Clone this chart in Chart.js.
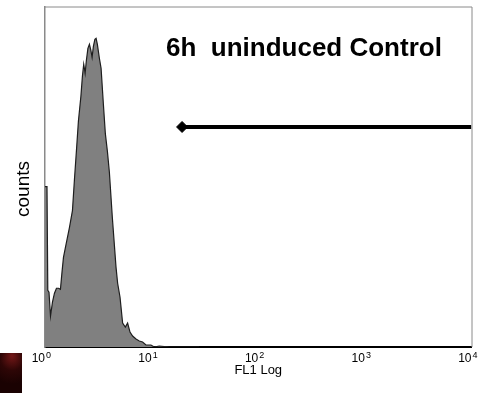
<!DOCTYPE html>
<html>
<head>
<meta charset="utf-8">
<script src="https://cdn.jsdelivr.net/npm/chart.js@4.4.1/dist/chart.umd.min.js"></script>
<style>
  html, body { margin: 0; padding: 0; background: #fff; }
  #wrap { width: 478px; height: 393px; }
</style>
</head>
<body>
<div id="wrap"><canvas id="facsHistogram"></canvas></div>
<script>
// FL1 channel (log scale) and event counts
const fl1 = [
    1.0, 1.044, 1.062, 1.09, 1.126, 1.175, 1.227, 1.281, 1.338, 1.396,
    1.443, 1.49, 1.555, 1.624, 1.695, 1.809, 1.888, 1.971, 2.058, 2.172,
    2.243, 2.307, 2.378, 2.445, 2.526, 2.609, 2.694, 2.765, 2.843, 2.937,
    3.014, 3.099, 3.236, 3.357, 3.527, 3.683, 3.844, 4.013, 4.281, 4.637,
    4.8, 5.054, 5.345, 5.665, 5.953, 6.269, 6.63, 7.134, 7.658, 8.226,
    8.85, 9.855, 10.58, 11.79, 14.62, 27.9,
];
const counts = [
    161, 161, 57, 55, 31, 45, 54, 59, 59, 58,
    75, 90, 100, 110, 120, 137, 168, 197, 227, 252,
    272, 284, 275, 288, 300, 304, 298, 291, 302, 309,
    310, 304, 290, 280, 244, 214, 197, 176, 130, 80,
    64, 50, 24, 20, 24, 15, 11, 8, 6, 5,
    2, 2, 0, 1, 0, 0,
];

// gate marker
const markerX = [19.3, 10000];
const markerY = [221, 221];

// decade ticks: base "10" plus the exponent drawn as a superscript
const tickValues = [1, 10, 100, 1000, 10000];
const tickExponents = ["0", "1", "2", "3", "4"];

const chartTitle = "6h  uninduced Control";
const yTitle = "counts";
const xTitle = "FL1 Log";

Chart.defaults.font.family = "Arial, 'Liberation Sans', sans-serif";
Chart.defaults.color = "#000";

const extras = {
    id: "extras",
    beforeDraw(chart) {
        const ctx = chart.ctx;
        // dark red scrap in the lower left corner of the original figure
        const g = ctx.createRadialGradient(12, 356, 1, 12, 362, 22);
        g.addColorStop(0, "#6e1616");
        g.addColorStop(0.5, "#2e0606");
        g.addColorStop(1, "#1a0202");
        ctx.save();
        ctx.fillStyle = g;
        ctx.fillRect(0, 353, 22, 40);
        ctx.restore();
    },
    afterDraw(chart) {
        const { ctx, chartArea } = chart;
        const xs = chart.scales.x;
        ctx.save();
        // top and right frame
        ctx.strokeStyle = "#8a8a8a";
        ctx.lineWidth = 1;
        ctx.beginPath();
        ctx.moveTo(chartArea.left, chartArea.top + 0.5);
        ctx.lineTo(chartArea.right + 0.5, chartArea.top + 0.5);
        ctx.lineTo(chartArea.right + 0.5, chartArea.bottom);
        ctx.stroke();

        // exponents of the tick labels
        ctx.fillStyle = "#000";
        ctx.font = "9px Arial, 'Liberation Sans', sans-serif";
        ctx.textAlign = "left";
        ctx.textBaseline = "alphabetic";
        tickValues.forEach((v, i) => {
            ctx.fillText(tickExponents[i], xs.getPixelForValue(v) + 1, chartArea.bottom + 11);
        });

        ctx.font = "bold 26px Arial, 'Liberation Sans', sans-serif";
        ctx.fillText(chartTitle, chartArea.left + 121, chartArea.top + 49);

        ctx.font = "19px Arial, 'Liberation Sans', sans-serif";
        ctx.translate(24, 189);
        ctx.rotate(-Math.PI / 2);
        ctx.textAlign = "center";
        ctx.textBaseline = "middle";
        ctx.fillText(yTitle, 0, 0);
        ctx.restore();
    },
};

const data = {
    datasets: [
        {
            label: "FL1",
            data: fl1.map((x, i) => ({ x: x, y: counts[i] })),
            borderColor: "#1e1e1e",
            borderWidth: 1.2,
            backgroundColor: "#808080",
            fill: "origin",
            pointRadius: 0,
            tension: 0,
            order: 2,
        },
        {
            label: "marker",
            data: markerX.map((x, i) => ({ x: x, y: markerY[i] })),
            borderColor: "#000",
            borderWidth: 4,
            pointStyle: "rectRot",
            pointRadius: [5.5, 0],
            pointBackgroundColor: "#000",
            pointBorderColor: "#000",
            pointBorderWidth: 1,
            fill: false,
            order: 1,
        },
    ],
};

const config = {
    type: "line",
    data: data,
    plugins: [extras],
    options: {
        responsive: true,
        maintainAspectRatio: false,
        animation: false,
        layout: { padding: { top: 5, right: 5, left: 0, bottom: 0 } },
        plugins: {
            legend: { display: false },
            tooltip: { enabled: false },
        },
        scales: {
            x: {
                type: "logarithmic",
                min: 1,
                max: 10000,
                afterBuildTicks: (scale) => {
                    scale.ticks = tickValues.map((v) => ({ value: v }));
                },
                afterFit: (scale) => {
                    scale.height = 46;
                    scale.paddingLeft = 0;
                    scale.paddingRight = 0;
                },
                grid: { drawOnChartArea: false, drawTicks: false },
                border: { color: "#000", width: 2 },
                ticks: {
                    autoSkip: false,
                    maxRotation: 0,
                    align: "end",
                    padding: 4,
                    font: { size: 12 },
                    callback: () => "10",
                },
                title: {
                    display: true,
                    text: xTitle,
                    font: { size: 13 },
                    padding: { top: 0, bottom: 15 },
                },
            },
            y: {
                min: 0,
                max: 342,
                afterFit: (scale) => {
                    scale.width = 45;
                },
                grid: { drawOnChartArea: false, drawTicks: false },
                border: { color: "#8a8a8a", width: 1.5 },
                ticks: { display: false },
            },
        },
    },
};

new Chart(document.getElementById("facsHistogram"), config);
</script>
</body>
</html>
